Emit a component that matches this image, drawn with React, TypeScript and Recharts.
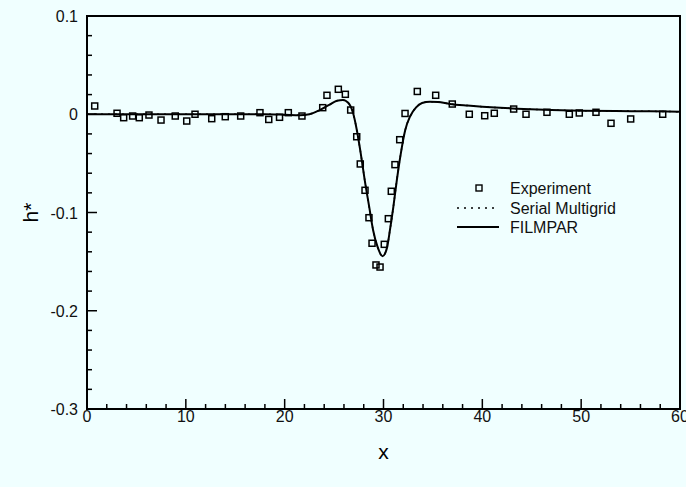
import React from "react";
import { ComposedChart, Line, Scatter, XAxis, YAxis, Legend, ReferenceArea } from "recharts";

// measured free-surface height h* vs x
const expX = [
  0.78, 3.04, 3.71, 4.62, 5.29, 6.27, 7.49, 8.93, 10.09, 10.93, 12.62, 13.99, 15.55,
  17.5, 18.39, 19.48, 20.37, 21.75, 23.85, 24.28, 25.43, 26.14, 26.68, 27.29, 27.65,
  28.13, 28.53, 28.84, 29.24, 29.65, 30.08, 30.49, 30.79, 31.16, 31.64, 32.18, 33.42,
  35.28, 36.96, 38.68, 40.24, 41.21, 43.17, 44.42, 46.54, 48.8, 49.81, 51.5, 53.02,
  55.01, 58.25,
];
const expH = [
  0.0084, 0.001, -0.0035, -0.0018, -0.0035, -0.0008, -0.0059, -0.0018, -0.0069, 0.0,
  -0.0045, -0.0025, -0.0018, 0.0016, -0.0053, -0.0031, 0.0016, -0.0018, 0.0067, 0.0193,
  0.0254, 0.0203, 0.0043, -0.0229, -0.0506, -0.0774, -0.1053, -0.1313, -0.1534, -0.1555,
  -0.1324, -0.1063, -0.0784, -0.0513, -0.0259, 0.0008, 0.0232, 0.0193, 0.0104, 0.0,
  -0.0015, 0.001, 0.0053, 0.0, 0.002, 0.0, 0.0013, 0.002, -0.0092, -0.0048, 0.0,
];

// simulation curves (FILMPAR and serial multigrid lie on top of each other)
const simX = [
  0, 5, 10, 15, 18, 20, 21.5, 22.5, 23.5, 24.5, 25.3, 25.9, 26.4, 26.9, 27.3, 27.7,
  28.1, 28.55, 28.95, 29.4, 29.9, 30.35, 30.65, 31.0, 31.35, 31.75, 32.2, 32.7, 33.3,
  33.9, 34.7, 35.5, 36.7, 38.5, 40, 43.5, 47, 50, 53.5, 57, 60,
];
const filmparH = [
  0, 0, 0, 0, 0, -0.0005, -0.001, 0, 0.004, 0.0095, 0.0138, 0.0145, 0.012, 0.002,
  -0.016, -0.04, -0.067, -0.094, -0.118, -0.135, -0.1445, -0.136, -0.118, -0.094,
  -0.067, -0.04, -0.016, -0.002, 0.007, 0.0115, 0.0128, 0.0125, 0.0105, 0.0088, 0.0077,
  0.0057, 0.0043, 0.0036, 0.0033, 0.003, 0.0026,
];
const multigridH = [
  0, 0, 0, 0, 0, -0.0005, -0.001, 0, 0.004, 0.0095, 0.0138, 0.0145, 0.012, 0.002,
  -0.016, -0.04, -0.067, -0.094, -0.118, -0.135, -0.1445, -0.136, -0.118, -0.094,
  -0.067, -0.04, -0.016, -0.002, 0.007, 0.0115, 0.0128, 0.0125, 0.0105, 0.0088, 0.0077,
  0.0057, 0.0043, 0.0036, 0.0033, 0.003, 0.0026,
];

const xTicks = [0, 2, 4, 6, 8, 10, 12, 14, 16, 18, 20, 22, 24, 26, 28, 30, 32, 34, 36, 38, 40, 42, 44, 46, 48, 50, 52, 54, 56, 58, 60];
const yTicks = [
  -0.3, -0.28, -0.26, -0.24, -0.22, -0.2, -0.18, -0.16, -0.14, -0.12, -0.1, -0.08,
  -0.06, -0.04, -0.02, 0, 0.02, 0.04, 0.06, 0.08, 0.1,
];

const expData = expX.map((x, i) => ({ x, h: expH[i] }));
const filmparData = simX.map((x, i) => ({ x, h: filmparH[i] }));
const multigridData = simX.map((x, i) => ({ x, h: multigridH[i] }));

const FONT = '"Liberation Sans", Arial, Helvetica, sans-serif';

function XTick(props: any) {
  const { x, y, payload } = props;
  const major = payload.value % 10 === 0;
  return (
    <g>
      <line x1={x} y1={y} x2={x} y2={y - (major ? 10 : 5)} stroke="#000" strokeWidth={1.5} />
      {major && (
        <text x={x} y={y + 13} textAnchor="middle" fontSize={16} fontFamily={FONT} fill="#111">
          {payload.value}
        </text>
      )}
    </g>
  );
}

function YTick(props: any) {
  const { x, y, payload } = props;
  const v = payload.value;
  const major = Math.abs(v * 10 - Math.round(v * 10)) < 1e-6;
  return (
    <g>
      <line x1={x} y1={y} x2={x + (major ? 10 : 5)} y2={y} stroke="#000" strokeWidth={1.5} />
      {major && (
        <text x={x - 9} y={y + 6} textAnchor="end" fontSize={16} fontFamily={FONT} fill="#111">
          {Math.round(v * 10) / 10}
        </text>
      )}
    </g>
  );
}

function Square(props: any) {
  const { cx, cy } = props;
  return <rect x={cx - 3} y={cy - 3} width={6} height={6} fill="none" stroke="#000" strokeWidth={1.5} />;
}

function LegendBox() {
  return (
    <svg width={200} height={65} style={{ fontFamily: FONT }}>
      <rect x={26} y={10} width={6} height={6} fill="none" stroke="#000" strokeWidth={1.4} />
      <text x={60} y={19} fontSize={16} fill="#111">Experiment</text>
      <line x1={7} y1={33} x2={49} y2={33} stroke="#000" strokeWidth={1.5} strokeDasharray="2 5" />
      <text x={60} y={39} fontSize={16} fill="#111">Serial Multigrid</text>
      <line x1={7} y1={52} x2={49} y2={52} stroke="#000" strokeWidth={2} />
      <text x={60} y={58} fontSize={16} fill="#111">FILMPAR</text>
    </svg>
  );
}

export default function App() {
  return (
    <div style={{ position: "fixed", left: 0, top: 0, width: 686, height: 487, background: "#f0ffff" }}>
      <ComposedChart width={686} height={487} margin={{ top: 16, right: 6, bottom: 0, left: 0 }}>
        <XAxis
          type="number"
          dataKey="x"
          domain={[0, 60]}
          ticks={xTicks}
          interval={0}
          allowDataOverflow
          height={78}
          tickSize={0}
          tickMargin={0}
          tickLine={false}
          tick={<XTick />}
          axisLine={{ stroke: "#000", strokeWidth: 2 }}
          label={(p: any) => (
            <text
              x={p.viewBox.x + p.viewBox.width / 2}
              y={p.viewBox.y + 50}
              textAnchor="middle"
              fontSize={21}
              fontFamily={FONT}
              fill="#000"
            >
              x
            </text>
          )}
        />
        <YAxis
          type="number"
          domain={[-0.3, 0.1]}
          ticks={yTicks}
          interval={0}
          allowDataOverflow
          width={87}
          tickSize={0}
          tickMargin={0}
          tickLine={false}
          tick={<YTick />}
          axisLine={{ stroke: "#000", strokeWidth: 2 }}
          label={(p: any) => {
            const cx = p.viewBox.x + 38;
            const cy = p.viewBox.y + p.viewBox.height / 2;
            return (
              <text
                x={cx}
                y={cy}
                transform={`rotate(-90, ${cx}, ${cy})`}
                textAnchor="middle"
                fontSize={21}
                fontFamily={FONT}
                fill="#000"
              >
                h*
              </text>
            );
          }}
        />
        <ReferenceArea
          x1={0}
          x2={60}
          y1={-0.3}
          y2={0.1}
          fill="none"
          stroke="#000"
          strokeWidth={2}
          ifOverflow="visible"
        />
        <Legend
          layout="vertical"
          align="center"
          verticalAlign="middle"
          content={() => <LegendBox />}
          wrapperStyle={{ left: 450, top: 175, width: 200, height: 65 }}
        />
        <Line
          data={multigridData}
          dataKey="h"
          type="monotone"
          stroke="#000"
          strokeWidth={1.5}
          strokeDasharray="2 5"
          dot={false}
          isAnimationActive={false}
        />
        <Line
          data={filmparData}
          dataKey="h"
          type="monotone"
          stroke="#000"
          strokeWidth={2}
          dot={false}
          isAnimationActive={false}
        />
        <Scatter data={expData} dataKey="h" shape={<Square />} isAnimationActive={false} />
      </ComposedChart>
    </div>
  );
}
